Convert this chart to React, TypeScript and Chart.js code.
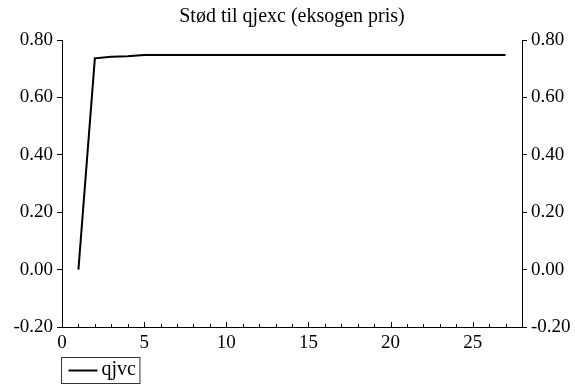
import React, { useEffect, useRef } from "react";
import { Chart, registerables } from "chart.js";

Chart.register(...registerables);

const titleText = "Stød til qjexc (eksogen pris)";
const seriesLabel = "qjvc";
const periods = [1, 2, 3, 4, 5, 6, 7, 8, 9, 10, 11, 12, 13, 14, 15, 16, 17, 18, 19, 20, 21, 22, 23, 24, 25, 26, 27];
const qjvc = [0, 0.736, 0.742, 0.743, 0.748, 0.748, 0.748, 0.748, 0.748, 0.748, 0.748, 0.748, 0.748, 0.748, 0.748, 0.748, 0.748, 0.748, 0.748, 0.748, 0.748, 0.748, 0.748, 0.748, 0.748, 0.748, 0.748];
const xTickValues = [0, 1, 2, 3, 4, 5, 6, 7, 8, 9, 10, 11, 12, 13, 14, 15, 16, 17, 18, 19, 20, 21, 22, 23, 24, 25, 26, 27, 28];
const xLabelEvery = 5;
const yMin = -0.2;
const yMax = 0.8;
const yStep = 0.2;

const FONT = "'Liberation Serif', 'Times New Roman', serif";

const innerTicksPlugin = {
  id: "innerTicks",
  afterDraw(chart: any) {
    const ctx = chart.ctx;
    const xs = chart.scales.x;
    const bottom = chart.chartArea.bottom;
    ctx.save();
    ctx.strokeStyle = "#000";
    ctx.lineWidth = 1;
    xTickValues.forEach((v) => {
      const px = Math.round(xs.getPixelForValue(v)) + 0.5;
      const len = v % xLabelEvery === 0 ? 5 : 3;
      ctx.beginPath();
      ctx.moveTo(px, bottom);
      ctx.lineTo(px, bottom - len);
      ctx.stroke();
    });
    ctx.restore();
  },
};

const boxLegendPlugin = {
  id: "boxLegend",
  afterDraw(chart: any) {
    const ctx = chart.ctx;
    const ds = chart.data.datasets[0];
    const left = chart.chartArea.left;
    ctx.save();
    ctx.font = `20px ${FONT}`;
    const tw = ctx.measureText(ds.label).width;
    const boxX = left - 0.5;
    const boxY = 357.5;
    const boxW = 40 + tw + 4;
    const boxH = 26;
    ctx.fillStyle = "#fff";
    ctx.fillRect(boxX, boxY, boxW, boxH);
    ctx.strokeStyle = "#333";
    ctx.lineWidth = 1;
    ctx.strokeRect(boxX, boxY, boxW, boxH);
    ctx.strokeStyle = ds.borderColor;
    ctx.lineWidth = 2;
    ctx.beginPath();
    ctx.moveTo(boxX + 7, boxY + 13);
    ctx.lineTo(boxX + 36, boxY + 13);
    ctx.stroke();
    ctx.fillStyle = "#000";
    ctx.textBaseline = "middle";
    ctx.fillText(ds.label, boxX + 40, boxY + 12);
    ctx.restore();
  },
};

export default function App() {
  const canvasRef = useRef<HTMLCanvasElement | null>(null);

  useEffect(() => {
    document.body.style.margin = "0";
    const canvas = canvasRef.current;
    if (!canvas) return;
    const yTicks = {
      font: { family: FONT, size: 19 },
      color: "#000",
      padding: 4,
      stepSize: yStep,
      callback: (v: any) => Number(v).toFixed(2),
    };
    const yGrid = { drawOnChartArea: false, drawTicks: true, tickLength: 5, color: "#000" };
    const chart = new Chart(canvas, {
      type: "line",
      data: {
        datasets: [
          {
            label: seriesLabel,
            data: periods.map((p, i) => ({ x: p, y: qjvc[i] })),
            borderColor: "#000",
            borderWidth: 2,
            pointRadius: 0,
            tension: 0,
            fill: false,
          },
        ],
      },
      options: {
        animation: false,
        responsive: false,
        devicePixelRatio: 1,
        layout: { padding: { left: 0, right: 0, top: 0, bottom: 0 } },
        plugins: {
          legend: { display: false },
          tooltip: { enabled: false },
          title: {
            display: true,
            text: titleText,
            fullSize: false,
            color: "#000",
            font: { family: FONT, size: 20, weight: "normal" as any, lineHeight: 1.2 },
            padding: { top: 5, bottom: 11 },
          },
        },
        scales: {
          x: {
            type: "linear",
            min: 0,
            max: 28,
            afterBuildTicks: (scale: any) => {
              scale.ticks = xTickValues.map((v) => ({ value: v }));
            },
            afterFit: (scale: any) => {
              scale.height = 58;
            },
            ticks: {
              autoSkip: false,
              maxRotation: 0,
              font: { family: FONT, size: 19 },
              color: "#000",
              padding: 5,
              callback: (v: any) => (Number(v) % xLabelEvery === 0 ? String(v) : ""),
            },
            grid: { display: true, drawOnChartArea: false, drawTicks: false, color: "#000" },
            border: { display: true, color: "#000", width: 1 },
          },
          y: {
            position: "left",
            min: yMin,
            max: yMax,
            afterFit: (scale: any) => {
              scale.width = 62;
            },
            ticks: yTicks,
            grid: yGrid,
            border: { display: true, color: "#000", width: 1 },
          },
          y2: {
            position: "right",
            min: yMin,
            max: yMax,
            afterFit: (scale: any) => {
              scale.width = 53;
            },
            ticks: yTicks,
            grid: yGrid,
            border: { display: true, color: "#000", width: 1 },
          },
        },
      },
      plugins: [innerTicksPlugin, boxLegendPlugin],
    });
    return () => chart.destroy();
  }, []);

  return (
    <div style={{ width: 575, height: 385, background: "#fff" }}>
      <canvas ref={canvasRef} width={575} height={385} style={{ display: "block" }} />
    </div>
  );
}
